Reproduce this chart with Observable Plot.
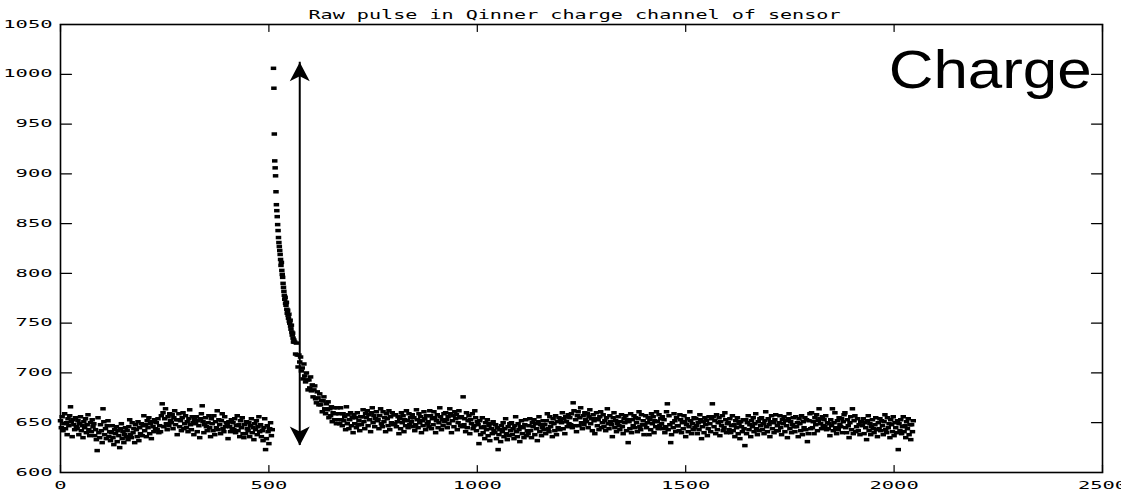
<!DOCTYPE html>
<html><head><meta charset="utf-8">
<script src="https://cdn.jsdelivr.net/npm/d3@7"></script>
<script src="https://cdn.jsdelivr.net/npm/@observablehq/plot@0.6"></script>
<style>
html,body{margin:0;padding:0;background:#fff;overflow:hidden}
</style></head><body><div id="chart"></div>
<script>
const chartTitle = "Raw pulse in Qinner charge channel of sensor";
const annotationLabel = "Charge";
const xTicks = [0, 500, 1000, 1500, 2000, 2500];
const yTicks = [600, 650, 700, 750, 800, 850, 900, 950, 1000, 1050];

// pre-pulse baseline: samples 0..508, every 2nd sample
const baselineStart = 0, baselineStep = 2;
const baselineValues = [
  652,645,656,642,649,659,644,650,638,654,647,657,666,651,636,653,648,643,655,646,
  644,652,638,649,656,642,647,635,651,645,654,640,648,658,643,637,650,641,653,646,
  649,637,643,633,622,655,640,635,648,642,630,664,651,638,644,634,647,652,636,641,
  632,640,647,635,628,643,639,646,631,642,637,625,644,649,634,641,630,638,645,636,
  642,633,646,653,638,635,650,640,644,630,648,643,636,651,632,645,639,649,637,647,
  657,642,648,636,652,645,655,639,649,634,651,646,641,653,644,650,643,654,640,647,
  641,657,669,660,646,654,664,649,643,656,647,659,652,650,658,644,655,662,648,653,
  638,653,659,646,652,642,655,660,644,649,657,645,651,641,654,663,648,643,656,650,
  638,653,649,656,641,652,647,635,654,659,667,651,640,648,655,646,642,650,657,645,
  636,654,649,642,657,638,651,645,662,643,653,648,639,652,659,644,641,656,646,650,
  649,634,651,646,641,653,644,650,643,654,640,647,657,642,648,636,652,645,655,639,
  635,648,639,651,644,642,650,636,647,654,640,645,633,649,643,652,638,646,656,641,
  648,636,642,632,645,654,623,634,647,641,629,644,650,637,643
];

// pulse: samples 511..560, every sample
const pulseStart = 511, pulseStep = 1;
const pulseValues = [
  1006, 986, 940, 913, 906, 898, 882, 869, 863, 857,
  849, 843, 836, 831, 827, 823, 819, 814, 808, 811,
  803, 799, 796, 790, 786, 782, 778, 774, 776, 770,
  768, 771, 764, 760, 763, 758, 755, 759, 752, 750,
  753, 747, 744, 748, 741, 738, 740, 735, 731, 733
];

// decay tail: samples 562..720, every 2nd sample
const tailStart = 562, tailStep = 2;
const tailValues = [
  731, 719, 730, 718, 706, 718, 711, 716, 702, 705,
  694, 709, 697, 691, 700, 693, 683, 693, 685, 696,
  682, 688, 676, 683, 687, 674, 670, 681, 675, 668,
  679, 668, 672, 661, 672, 676, 664, 659, 669, 663,
  671, 655, 664, 657, 666, 651, 660, 665, 653, 659,
  649, 665, 653, 659, 649, 665, 653, 647, 659, 652,
  656, 643, 666, 649, 658, 644, 653, 660, 647, 655,
  640, 658, 649, 655, 645, 660, 648, 652, 642, 656
];

// post-pulse baseline: samples 722..2046, every 2nd sample
const restStart = 722, restStep = 2;
const restValues = [
  648,656,663,651,644,659,655,662,647,658,653,641,660,665,650,657,646,654,661,652,
  653,644,657,664,649,646,661,651,655,641,659,654,647,662,643,656,650,660,648,658,
  649,658,646,651,656,639,654,644,660,650,657,641,653,647,662,652,645,659,648,655,
  651,658,646,655,642,648,663,653,645,659,650,656,640,652,647,661,654,643,657,649,
  651,646,662,657,644,654,648,661,655,640,652,658,645,650,665,656,643,653,647,659,
  651,660,653,645,656,649,664,659,640,652,657,646,661,654,658,643,650,662,655,647,
  656,646,676,648,654,641,660,645,652,657,639,653,649,659,644,647,662,655,642,651,
  648,629,652,638,645,655,640,646,634,650,643,653,637,647,632,649,644,639,651,642,
  640,648,634,645,623,638,643,631,647,641,650,636,644,654,639,633,646,637,649,642,
  650,638,644,634,647,656,641,636,649,643,631,646,652,639,645,635,648,653,637,642,
  639,647,654,642,635,650,646,653,638,649,644,632,651,656,641,648,637,645,652,643,
  648,639,652,659,644,641,656,646,650,636,654,649,642,657,638,651,645,655,643,653,
  650,660,644,654,639,656,651,646,658,649,655,648,659,645,670,662,647,653,641,657,
  661,647,655,665,650,644,657,648,660,653,651,659,645,656,663,649,654,642,658,652,
  639,654,660,647,653,643,656,661,645,650,658,646,652,642,655,664,649,644,657,651,
  648,636,655,660,645,652,641,649,656,647,643,651,658,646,639,654,650,657,642,653,
  630,651,644,659,640,653,647,657,645,655,650,641,654,661,646,643,658,648,652,638,
  648,657,645,650,655,638,653,643,659,649,656,640,652,646,661,651,644,658,647,654,
  649,656,644,653,640,646,661,669,643,657,648,630,638,650,645,659,652,641,655,647,
  647,642,658,653,640,650,644,657,651,636,648,654,641,646,661,652,639,649,643,655,
  645,654,647,639,650,643,658,653,634,646,651,640,655,648,652,637,644,656,649,641,
  654,669,656,646,652,639,658,643,650,655,637,651,647,657,642,645,660,653,640,649,
  650,643,654,640,647,657,642,648,636,652,645,655,639,649,634,651,646,641,653,644,
  627,653,639,650,657,643,648,636,652,646,655,641,649,659,644,638,651,642,654,647,
  655,643,649,639,652,661,646,641,654,648,636,651,657,644,650,640,653,658,642,647,
  642,650,657,645,638,653,649,656,641,652,647,635,654,659,644,651,640,648,655,646,
  641,656,646,650,636,654,649,642,657,638,651,645,655,643,653,631,639,652,659,644,
  660,645,651,639,655,648,658,642,652,664,654,649,644,656,647,653,646,657,643,650,
  644,649,637,653,647,664,642,650,660,645,639,652,643,655,648,646,654,640,651,658,
  660,645,640,653,647,635,650,656,643,664,639,652,657,641,646,654,642,648,638,651,
  651,647,654,639,650,645,633,652,657,642,649,638,646,653,644,640,648,655,643,636,
  650,644,654,642,652,647,638,651,658,643,640,655,645,649,635,653,648,641,656,637,
  650,645,640,652,623,649,642,653,639,646,656,641,647,635,651,644,654,638,648,633,
  648,641,652
];

// annotation (double arrow and label), in data units
const arrowX = 574, arrowBottom = 627, arrowTop = 1012;
const labelX = 1987, labelY = 986;

const segments = [
  [baselineStart, baselineStep, baselineValues],
  [pulseStart, pulseStep, pulseValues],
  [tailStart, tailStep, tailValues],
  [restStart, restStep, restValues]
];
const samples = segments.flatMap(([s, st, vals]) => vals.map((v, i) => ({sample: s + i * st, adc: v})));

const dash = {draw(ctx) { ctx.rect(-2.75, -1.75, 5.5, 3.5); }};
const headUp = {draw(ctx) { ctx.moveTo(0, 0); ctx.lineTo(-10, 19); ctx.lineTo(0, 14); ctx.lineTo(10, 19); ctx.closePath(); }};
const headDown = {draw(ctx) { ctx.moveTo(0, 0); ctx.lineTo(-10, -19); ctx.lineTo(0, -14); ctx.lineTo(10, -19); ctx.closePath(); }};
const tickShape = {draw(ctx, l) { ctx.moveTo(0, 0); ctx.lineTo(0, -l); }};

const xMin = xTicks[0], xMax = xTicks[xTicks.length - 1];
const yMin = yTicks[0], yMax = yTicks[yTicks.length - 1];
const mono = "DejaVu Sans Mono, monospace";

const svg = Plot.plot({
  width: 1121,
  height: 494,
  marginLeft: 60,
  marginRight: 19,
  marginTop: 24,
  marginBottom: 22,
  style: {background: "white", color: "black", fontFamily: mono, overflow: "hidden"},
  x: {domain: [xMin, xMax]},
  y: {domain: [yMin, yMax]},
  marks: [
    Plot.frame({stroke: "black", strokeWidth: 1.6}),
    Plot.vector(yTicks, {x: xMin, y: d => d, length: 11, rotate: 90, anchor: "start", shape: tickShape, stroke: "black", strokeWidth: 1.2}),
    Plot.vector(yTicks, {x: xMax, y: d => d, length: 11, rotate: -90, anchor: "start", shape: tickShape, stroke: "black", strokeWidth: 1.2}),
    Plot.vector(xTicks, {x: d => d, y: yMin, length: 7, rotate: 0, anchor: "start", shape: tickShape, stroke: "black", strokeWidth: 1.2}),
    Plot.vector(xTicks, {x: d => d, y: yMax, length: 7, rotate: 180, anchor: "start", shape: tickShape, stroke: "black", strokeWidth: 1.2}),
    Plot.axisY(yTicks, {tickSize: 0, tickPadding: 8, tickFormat: d => String(d), fontSize: 10, fontFamily: mono, label: null}),
    Plot.axisX(xTicks, {tickSize: 0, tickPadding: 9, tickFormat: d => String(d), fontSize: 10, fontFamily: mono, label: null}),
    Plot.dot(samples, {x: "sample", y: "adc", symbol: dash, fill: "black", stroke: "none"}),
    Plot.ruleX([arrowX], {y1: arrowBottom, y2: arrowTop, stroke: "black", strokeWidth: 2}),
    Plot.dot([arrowTop], {x: arrowX, y: d => d, symbol: headUp, fill: "black", stroke: "none"}),
    Plot.dot([arrowBottom], {x: arrowX, y: d => d, symbol: headDown, fill: "black", stroke: "none"}),
    Plot.text([chartTitle], {frameAnchor: "top", dx: -7, dy: -14, text: d => d, fontSize: 12, fontFamily: mono, fill: "black"}),
    Plot.text([annotationLabel], {x: labelX, y: labelY, text: d => d, textAnchor: "start", lineAnchor: "bottom", fontSize: 53, fontFamily: "Liberation Sans, Arial, sans-serif", fill: "black"})
  ]
});

// horizontally stretched lettering, as in the reference
d3.select(svg).selectAll("text").each(function() {
  const t = this.textContent;
  let len = null;
  if (/^\d+$/.test(t)) len = t.length * 12.3;
  else if (t === chartTitle) len = 532;
  else if (t === annotationLabel) len = 203;
  if (len) {
    this.setAttribute("textLength", len);
    this.setAttribute("lengthAdjust", "spacingAndGlyphs");
  }
});

document.getElementById("chart").append(svg);
</script></body></html>
